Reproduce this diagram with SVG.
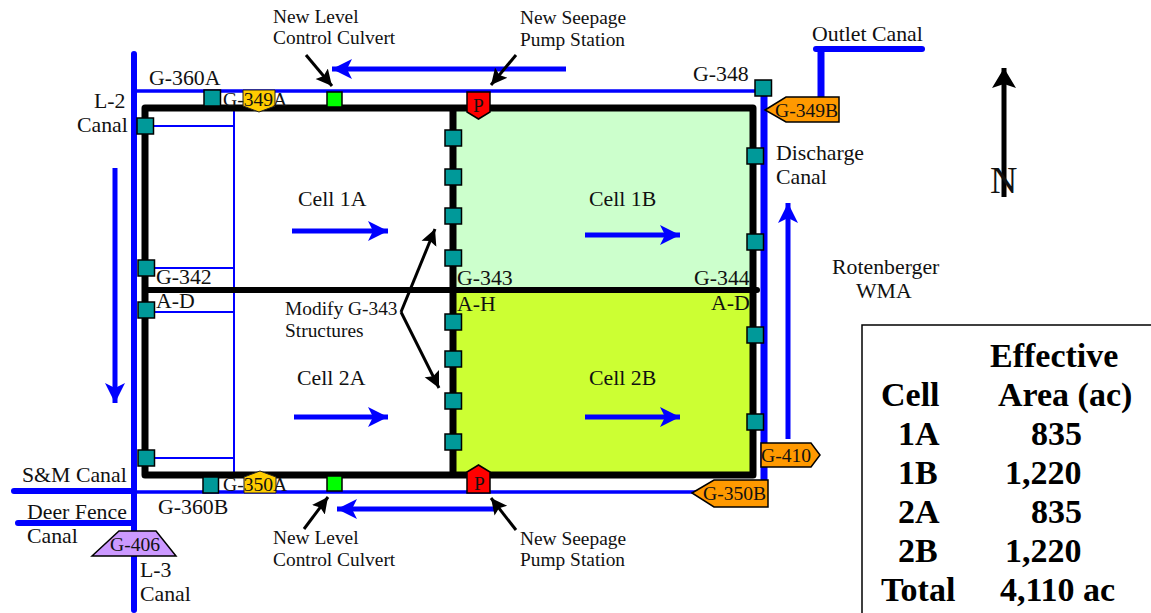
<svg xmlns="http://www.w3.org/2000/svg" width="1151" height="613" viewBox="0 0 1151 613">
<style>
text{font-family:"Liberation Serif","Times New Roman",serif;font-size:21.800px;fill:#111}
.s{font-size:19.400px}
.t{font-size:19.600px}
.b{font-weight:700;font-size:34px;fill:#000}
.canal{fill:none;stroke:#0000ff;stroke-width:6;stroke-linecap:round}
.thin{fill:none;stroke:#0000ff;stroke-width:2}
.mid{fill:none;stroke:#0000ff;stroke-width:3.500}
.lev{fill:none;stroke:#000;stroke-width:7;stroke-linecap:round;stroke-linejoin:round}
.flow{fill:none;stroke:#0000ff;stroke-width:5}
.call{fill:none;stroke:#000;stroke-width:3}
.st{fill:#009999;stroke:#000;stroke-width:1.500}
.gr{fill:#00ff00;stroke:#000;stroke-width:1.500}
.ye{fill:#ffcc00;stroke:#222;stroke-width:1}
.or{fill:#ff9900;stroke:#000;stroke-width:1.500}
</style>
<defs>
<marker id="bh" markerUnits="userSpaceOnUse" markerWidth="24" markerHeight="24" refX="20" refY="12" orient="auto"><path d="M0 2L20 12L0 22L5 12Z" fill="#0000ff"/></marker>
<marker id="kh" markerUnits="userSpaceOnUse" markerWidth="20" markerHeight="20" refX="16" refY="10" orient="auto"><path d="M0 2L16 10L0 18L3 10Z" fill="#000"/></marker>
<marker id="nh" markerUnits="userSpaceOnUse" markerWidth="26" markerHeight="26" refX="20" refY="13" orient="auto"><path d="M0 1L20 13L0 25L4 13Z" fill="#000"/></marker>
</defs>
<g id="cells">
<rect id="cell-1b" x="456" y="111" width="295" height="178" fill="#ccffcc"/>
<rect id="cell-2b" x="456" y="292" width="295" height="181" fill="#ccff33"/>
</g>
<g id="connectors">
<path class="thin" d="M234 108V474M145 126H234M145 268H234M145 312H234M145 458H234"/>
<path class="mid" d="M134 91H763M134 492H700"/>
<path class="canal" d="M134 54V610M14 491H134M18 523H134"/>
<path d="M764 95V480" fill="none" stroke="#0000ff" stroke-width="7"/>
<path class="canal" d="M816 49H922"/>
<path d="M821 49V98" fill="none" stroke="#0000ff" stroke-width="7"/>
<path class="lev" d="M145 108H753V475H145ZM453 108V475"/>
<path d="M145 290H757" fill="none" stroke="#000" stroke-width="6" stroke-linecap="round"/>
<path class="flow" d="M566 69H332" marker-end="url(#bh)"/>
<path class="flow" d="M115 168V403" marker-end="url(#bh)"/>
<path class="flow" d="M292 231H388" marker-end="url(#bh)"/>
<path class="flow" d="M585 235H680" marker-end="url(#bh)"/>
<path class="flow" d="M294 417H388" marker-end="url(#bh)"/>
<path class="flow" d="M585 417H680" marker-end="url(#bh)"/>
<path class="flow" d="M788 439V203" marker-end="url(#bh)"/>
<path class="flow" d="M497 509H337" marker-end="url(#bh)"/>
<path class="call" d="M306 55L332 86" marker-end="url(#kh)"/>
<path class="call" d="M516 55L491 85" marker-end="url(#kh)"/>
<path class="call" d="M304 529L328 497" marker-end="url(#kh)"/>
<path class="call" d="M516 530L491 498" marker-end="url(#kh)"/>
<path class="call" d="M401 312L435 229" marker-end="url(#kh)"/>
<path class="call" d="M401 312L439 388" marker-end="url(#kh)"/>
<path d="M1004 197V68" fill="none" stroke="#000" stroke-width="5" marker-end="url(#nh)"/>
</g>
<g id="structures">
<rect class="st" x="204" y="90" width="16.500" height="16"/>
<rect class="st" x="137" y="118" width="16.500" height="16"/>
<rect class="st" x="138" y="260" width="16.500" height="16"/>
<rect class="st" x="138" y="302" width="16.500" height="16"/>
<rect class="st" x="138" y="450" width="16.500" height="16"/>
<rect class="st" x="203" y="477" width="15.500" height="16"/>
<rect class="st" x="755" y="80" width="16.500" height="16"/>
<rect class="st" x="747" y="148" width="16.500" height="16"/>
<rect class="st" x="747" y="234" width="16.500" height="16"/>
<rect class="st" x="747" y="327" width="16.500" height="16"/>
<rect class="st" x="747" y="414" width="16.500" height="16"/>
<rect class="st" x="445" y="130" width="16.500" height="16"/>
<rect class="st" x="445" y="169" width="16.500" height="16"/>
<rect class="st" x="445" y="208" width="16.500" height="16"/>
<rect class="st" x="445" y="250" width="16.500" height="16"/>
<rect class="st" x="445" y="314" width="16.500" height="16"/>
<rect class="st" x="445" y="351" width="16.500" height="16"/>
<rect class="st" x="445" y="393" width="16.500" height="16"/>
<rect class="st" x="445" y="434" width="16.500" height="16"/>
</g>
<g id="culvert-north"><rect class="gr" x="327" y="92" width="15" height="15"/></g>
<g id="culvert-south"><rect class="gr" x="327" y="476" width="15" height="15"/></g>
<g id="pump-north"><path d="M467 92H490V112L478.500 119L467 112Z" fill="#ff0000" stroke="#000" stroke-width="1.500"/><text x="473" y="112" class="s">P</text></g>
<g id="pump-south"><path d="M467 493V472L478.500 465L490 472V493Z" fill="#ff0000" stroke="#000" stroke-width="1.500"/><text x="474" y="490" class="s">P</text></g>
<g id="g-349a"><path class="ye" d="M243 90H275V106L259 112L243 106Z"/><text class="t" x="223" y="106">G-349A</text></g>
<g id="g-350a"><path class="ye" d="M244 493V477L260 471L276 477V493Z"/><text class="t" x="223" y="491">G-350A</text></g>
<g id="g-349b"><path class="or" d="M765 110L786 97H839V122H786Z"/><text class="t" x="775" y="117">G-349B</text></g>
<g id="g-350b"><path class="or" d="M692 493L714 480H768V507H714Z"/><text class="t" x="703" y="500">G-350B</text></g>
<g id="g-410"><path class="or" d="M761 443H811L820 455L811 467H761Z"/><text class="t" x="761" y="462">G-410</text></g>
<g id="g-406"><path d="M92 556L119 531H156L176 556Z" fill="#cc99ff" stroke="#000" stroke-width="1.500"/><text class="t" x="110" y="551">G-406</text></g>
<g id="labels">
<text x="149" y="85">G-360A</text>
<text x="94" y="108">L-2</text>
<text x="77" y="132">Canal</text>
<text x="693" y="81">G-348</text>
<text x="812" y="41">Outlet Canal</text>
<text x="776" y="160">Discharge</text>
<text x="776" y="184">Canal</text>
<text x="832" y="274">Rotenberger</text>
<text x="856" y="298">WMA</text>
<text x="298" y="206">Cell 1A</text>
<text x="589" y="206">Cell 1B</text>
<text x="297" y="385">Cell 2A</text>
<text x="589" y="385">Cell 2B</text>
<text x="156" y="284">G-342</text>
<text x="156" y="308">A-D</text>
<text x="457" y="285">G-343</text>
<text x="457" y="311">A-H</text>
<text x="694" y="285">G-344</text>
<text x="711" y="310">A-D</text>
<text class="s" x="285" y="315">Modify G-343</text>
<text class="s" x="285" y="337">Structures</text>
<text class="s" x="273" y="23">New Level</text>
<text class="s" x="273" y="44">Control Culvert</text>
<text class="s" x="520" y="24">New Seepage</text>
<text class="s" x="520" y="46">Pump Station</text>
<text class="s" x="273" y="544">New Level</text>
<text class="s" x="273" y="566">Control Culvert</text>
<text class="s" x="520" y="545">New Seepage</text>
<text class="s" x="520" y="566">Pump Station</text>
<text x="22" y="482">S&amp;M Canal</text>
<text x="27" y="519">Deer Fence</text>
<text x="27" y="543">Canal</text>
<text x="140" y="577">L-3</text>
<text x="140" y="601">Canal</text>
<text x="158" y="514">G-360B</text>
<text x="990" y="193" style="font-size:38px">N</text>
</g>
<g id="table">
<path d="M1151 325H862V613" fill="none" stroke="#000" stroke-width="1.500"/>
<text class="b" x="990" y="367">Effective</text>
<text class="b" x="881" y="406">Cell</text>
<text class="b" x="998" y="406">Area (ac)</text>
<text class="b" x="898" y="445">1A</text>
<text class="b" x="1031" y="445">835</text>
<text class="b" x="898" y="484">1B</text>
<text class="b" x="1005" y="484">1,220</text>
<text class="b" x="898" y="523">2A</text>
<text class="b" x="1031" y="523">835</text>
<text class="b" x="898" y="562">2B</text>
<text class="b" x="1005" y="562">1,220</text>
<text class="b" x="881" y="601">Total</text>
<text class="b" x="1000" y="601">4,110 ac</text>
</g>
</svg>
